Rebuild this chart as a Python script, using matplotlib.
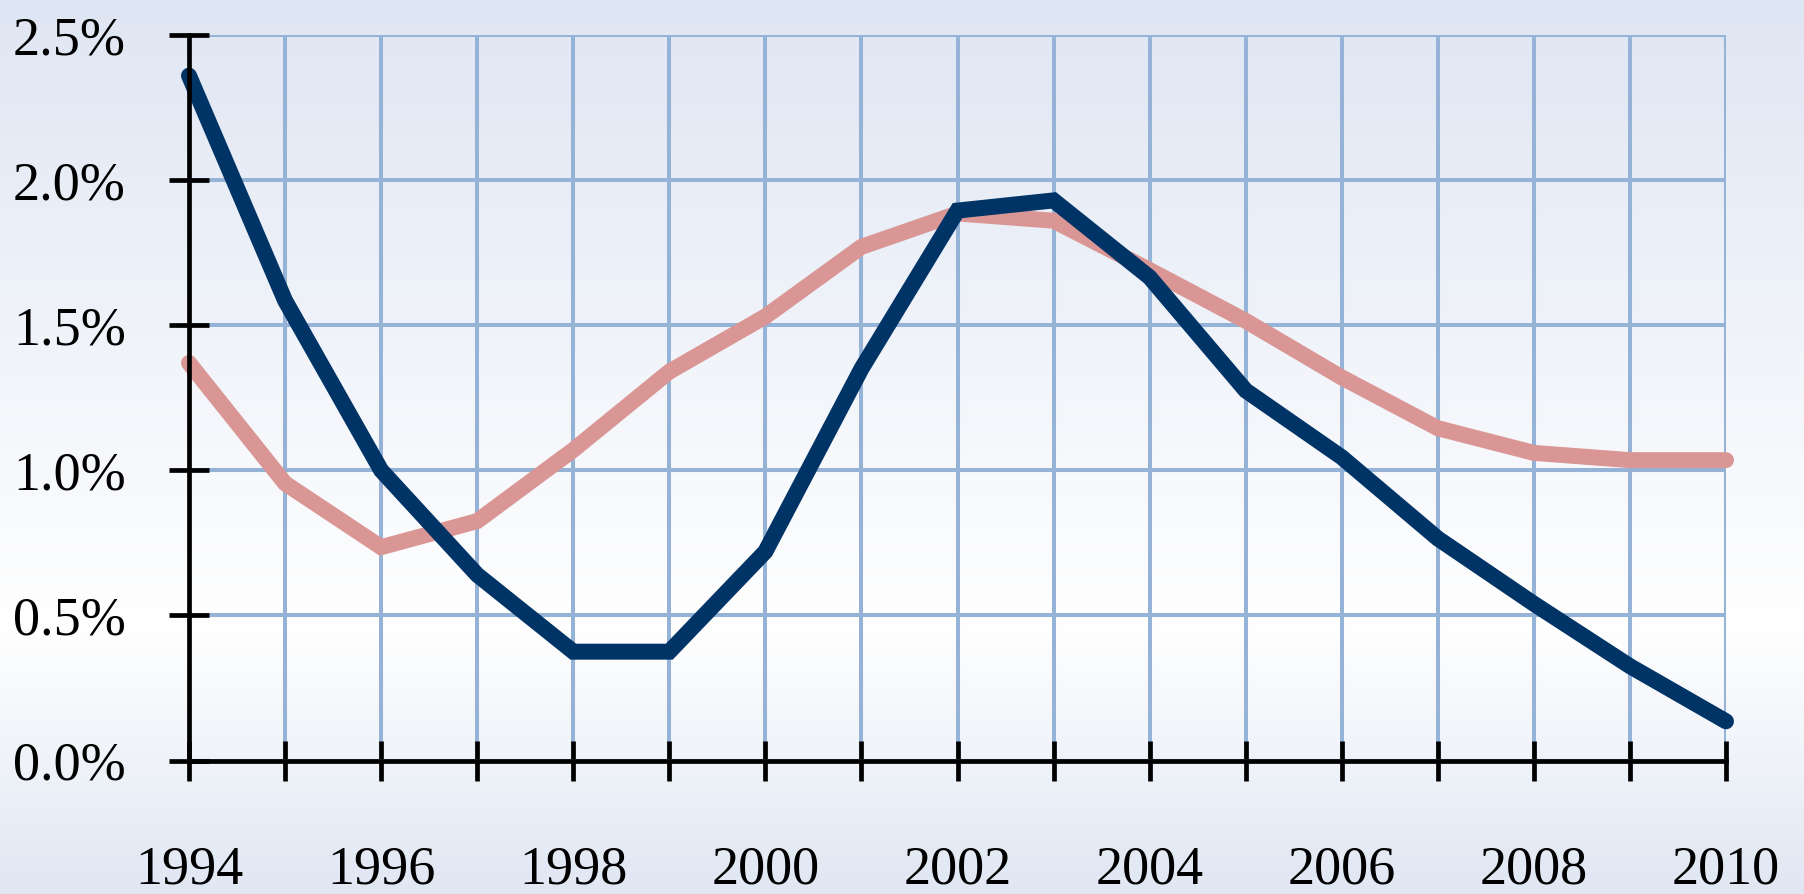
import matplotlib
matplotlib.use("Agg")
import matplotlib.pyplot as plt
import numpy as np

# data
years = list(range(1994, 2011))
series_navy = [2.36, 1.585, 1.0, 0.64, 0.375, 0.375, 0.72, 1.35, 1.895, 1.93,
               1.665, 1.275, 1.045, 0.765, 0.54, 0.325, 0.135]
series_pink = [1.37, 0.955, 0.735, 0.825, 1.07, 1.34, 1.53, 1.77, 1.885, 1.86,
               1.69, 1.515, 1.32, 1.145, 1.06, 1.035, 1.035]
y_ticks = [0.0, 0.5, 1.0, 1.5, 2.0, 2.5]
y_tick_labels = ['0.0%', '0.5%', '1.0%', '1.5%', '2.0%', '2.5%']
x_tick_labels = [str(y) if y % 2 == 0 else '' for y in years]

navy = '#003366'
pink = '#D99694'
grid_color = '#95B3D7'

fig = plt.figure(figsize=(18.04, 8.94), dpi=100)

# background gradient: light blue at top, white low down, light blue at the bottom
bg = fig.add_axes([0, 0, 1, 1], zorder=-1)
top = np.array([223, 230, 243]) / 255
mid = np.array([255, 255, 255]) / 255
bot = np.array([224, 231, 243]) / 255
t = np.linspace(0, 1, 500)[:, None]
stop = 0.70
grad = np.where(t < stop,
                top + (mid - top) * (t / stop),
                mid + (bot - mid) * ((t - stop) / (1 - stop)))
bg.imshow(grad[:, None, :].repeat(2, axis=1), aspect='auto', extent=[0, 1, 0, 1])
bg.axis('off')

ax = fig.add_axes([189 / 1804, 1 - 760.5 / 894, (1726 - 189) / 1804, (760.5 - 35) / 894])
ax.patch.set_alpha(0)

ax.plot(years, series_pink, color=pink, lw=11.5, solid_capstyle='round',
        solid_joinstyle='miter', clip_on=False, zorder=3)
ax.plot(years, series_navy, color=navy, lw=11.5, solid_capstyle='round',
        solid_joinstyle='miter', clip_on=False, zorder=4)

ax.set_xlim(1994, 2010)
ax.set_ylim(0, 2.5)
ax.set_xticks(years)
ax.set_xticklabels(x_tick_labels)
ax.set_yticks(y_ticks)
ax.set_yticklabels(y_tick_labels)

ax.grid(True, color=grid_color, lw=2.9, zorder=1)
ax.set_axisbelow(True)

for side in ['top', 'right']:
    ax.spines[side].set_visible(False)
for side in ['left', 'bottom']:
    ax.spines[side].set_linewidth(3.4)
    ax.spines[side].set_color('black')
    ax.spines[side].set_zorder(5)

ax.tick_params(axis='both', direction='inout', length=29, width=3.4, color='black')
ax.tick_params(axis='y', pad=31)
ax.tick_params(axis='x', pad=46)
for lab in ax.get_xticklabels() + ax.get_yticklabels():
    lab.set_fontfamily('Liberation Serif')
    lab.set_fontsize(39)

fig.savefig('out.png', dpi=100)
